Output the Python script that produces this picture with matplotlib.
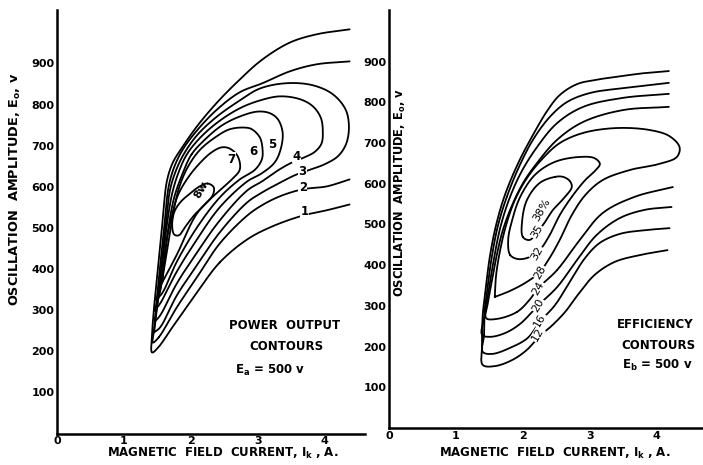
import numpy as np
import matplotlib
matplotlib.use("Agg")
import matplotlib.pyplot as plt

# ---------------- DATA ----------------
# Left panel: power output contours (x = field current A, y = oscillation amplitude V)
p1_x = [4.37, 3.88, 3.48, 3.07, 2.73, 2.39, 2.09, 1.87, 1.73, 1.64, 1.58, 1.52, 1.46, 1.42, 1.42,
        1.51, 1.73, 2.09, 2.43, 2.84, 3.22, 3.67, 4.03, 4.37]
p1_y = [983, 971, 951, 910, 861, 805, 747, 696, 659, 613, 521, 423, 326, 241, 197,
        209, 260, 343, 416, 472, 504, 530, 543, 557]
p2_x = [4.37, 3.88, 3.48, 3.07, 2.73, 2.39, 2.09, 1.88, 1.76, 1.67, 1.61, 1.55, 1.49, 1.45, 1.43,
        1.52, 1.79, 2.09, 2.43, 2.84, 3.06, 3.33, 3.67, 4.03, 4.37]
p2_y = [905, 898, 881, 852, 830, 788, 737, 691, 652, 603, 516, 423, 326, 253, 221,
        234, 307, 380, 462, 530, 555, 577, 594, 601, 618]
p3_x = [1.45, 1.51, 1.57, 1.63, 1.69, 1.79, 1.91, 2.10, 2.39, 2.73, 3.03, 3.43, 3.82, 4.12, 4.31,
        4.36, 4.32, 4.20, 4.00, 3.75, 3.55, 3.33, 3.06, 2.84, 2.43, 2.09, 1.79, 1.54, 1.45]
p3_y = [246, 326, 423, 516, 594, 645, 684, 727, 771, 810, 839, 852, 847, 825, 788,
        747, 705, 675, 655, 640, 628, 610, 586, 562, 489, 409, 336, 258, 246]
p4_x = [1.46, 1.52, 1.58, 1.64, 1.72, 1.82, 1.94, 2.13, 2.40, 2.73, 3.03, 3.33, 3.63, 3.82, 3.94,
        3.97, 3.95, 3.85, 3.70, 3.52, 3.33, 3.06, 2.84, 2.43, 2.09, 1.79, 1.54, 1.46]
p4_y = [272, 338, 423, 506, 584, 637, 679, 718, 757, 791, 810, 820, 813, 796, 768,
        735, 705, 685, 672, 660, 643, 613, 591, 518, 440, 365, 287, 272]
p5_x = [1.46, 1.54, 1.60, 1.66, 1.75, 1.87, 2.01, 2.21, 2.46, 2.73, 3.00, 3.18, 3.30, 3.37, 3.34,
        3.25, 3.06, 2.84, 2.43, 2.09, 1.79, 1.54, 1.46]
p5_y = [299, 345, 418, 496, 574, 630, 679, 715, 749, 771, 783, 779, 764, 732, 691,
        659, 633, 613, 550, 472, 394, 316, 299]
p6_x = [1.48, 1.54, 1.61, 1.69, 1.76, 1.84, 1.96, 2.13, 2.36, 2.58, 2.81, 2.91, 3.03, 3.07, 3.06,
        2.96, 2.73, 2.43, 2.09, 1.79, 1.57, 1.48]
p6_y = [326, 350, 411, 491, 557, 606, 650, 689, 720, 740, 744, 740, 720, 691, 667,
        642, 618, 574, 501, 418, 341, 326]
p7_x = [1.57, 1.60, 1.64, 1.72, 1.81, 1.96, 2.13, 2.31, 2.46, 2.58, 2.70, 2.73, 2.61, 2.36, 2.09,
        1.79, 1.57]
p7_y = [367, 418, 472, 533, 581, 623, 657, 684, 696, 693, 674, 642, 618, 581, 535,
        435, 367]
p8_x = [2.25, 2.34, 2.33, 2.21, 2.06, 1.93, 1.82, 1.75, 1.72, 1.75, 1.84, 1.99, 2.13, 2.25]
p8_y = [608, 599, 581, 557, 533, 506, 482, 484, 506, 538, 562, 584, 601, 608]
power_labels = ["1", "2", "3", "4", "5", "6", "7", "8w"]

# Right panel: efficiency contours (%)
e12_x = [4.18, 3.82, 3.49, 3.15, 2.81, 2.55, 2.37, 2.15, 1.93, 1.73, 1.60, 1.51, 1.45, 1.40, 1.39,
         1.40, 1.58, 1.84, 2.06, 2.25, 2.43, 2.63, 2.82, 3.07, 3.37, 3.75, 4.16]
e12_y = [877, 872, 865, 857, 845, 818, 781, 720, 651, 572, 499, 425, 351, 278, 204,
         155, 152, 167, 192, 226, 251, 285, 327, 376, 408, 425, 437]
e16_x = [4.18, 3.49, 3.00, 2.66, 2.40, 2.15, 1.94, 1.76, 1.63, 1.54, 1.48, 1.43, 1.42, 1.40,
         1.54, 1.81, 2.07, 2.25, 2.48, 2.70, 2.93, 3.15, 3.45, 3.82, 4.19]
e16_y = [848, 835, 823, 801, 764, 708, 641, 568, 499, 425, 356, 290, 229, 187,
         182, 197, 221, 260, 302, 359, 418, 455, 477, 486, 491]
e20_x = [4.18, 3.49, 2.90, 2.51, 2.21, 1.97, 1.79, 1.66, 1.57, 1.49, 1.43, 1.39,
         1.51, 1.73, 1.96, 2.22, 2.51, 2.81, 3.10, 3.45, 3.82, 4.22]
e20_y = [821, 811, 789, 749, 690, 627, 560, 491, 418, 339, 278, 229,
         224, 233, 256, 300, 346, 413, 474, 516, 536, 543]
e24_x = [4.18, 3.49, 2.90, 2.51, 2.21, 2.01, 1.84, 1.70, 1.61, 1.54, 1.48, 1.45,
         1.61, 1.91, 2.10, 2.22, 2.51, 2.85, 3.19, 3.67, 4.24]
e24_y = [789, 781, 752, 708, 651, 604, 548, 486, 425, 364, 310, 270,
         268, 285, 315, 342, 388, 462, 528, 568, 592]
e28_x = [1.58, 1.60, 1.66, 1.75, 1.88, 2.06, 2.30, 2.55, 2.90, 3.40, 3.90, 4.19, 4.34, 4.30, 4.04,
         3.60, 3.19, 2.93, 2.73, 2.55, 2.40, 2.25, 2.06, 1.81, 1.58]
e28_y = [322, 376, 437, 499, 560, 614, 663, 700, 725, 737, 732, 717, 690, 666, 649,
         634, 609, 572, 523, 462, 418, 383, 359, 337, 322]
e32_x = [1.81, 1.78, 1.84, 1.96, 2.18, 2.48, 2.85, 3.07, 3.15, 3.09, 2.93, 2.73, 2.55, 2.40, 2.25,
         2.10, 1.93, 1.81]
e32_y = [425, 462, 511, 568, 622, 654, 666, 663, 649, 634, 609, 568, 523, 474, 437,
         420, 415, 425]
e35_x = [2.00, 1.99, 2.06, 2.25, 2.48, 2.60, 2.70, 2.73, 2.63, 2.45, 2.33, 2.22, 2.10, 2.00]
e35_y = [469, 511, 560, 602, 617, 617, 607, 592, 568, 536, 506, 482, 462, 469]
eff_labels = ["38%", "35", "32", "28", "24", "20", "16", "12"]

x_ticks = [0, 1, 2, 3, 4]
y_ticks = [100, 200, 300, 400, 500, 600, 700, 800, 900]

# ---------------- FIGURE ----------------
W, H = 703, 465
fig = plt.figure(figsize=(W / 100, H / 100), dpi=100)
fig.patch.set_facecolor("white")


def axes_px(x0, x1, ytop, ybot):
    return fig.add_axes([x0 / W, (H - ybot) / H, (x1 - x0) / W, (ybot - ytop) / H])


axL = axes_px(57, 365, 10, 433.5)
axR = axes_px(389, 703, 10, 428)
axL.set_xlim(0, 4.6)
axL.set_ylim(0, 1030)
axR.set_xlim(0, 4.69)
axR.set_ylim(0, 1027)

FONT = "DejaVu Sans"
for ax in (axL, axR):
    for s in ("top", "right"):
        ax.spines[s].set_visible(False)
    for s in ("left", "bottom"):
        ax.spines[s].set_linewidth(1.8)
        ax.spines[s].set_color("black")
    ax.set_xticks(x_ticks)
    ax.set_yticks(y_ticks)
    ax.set_xticklabels([str(v) for v in x_ticks])
    ax.set_yticklabels([str(v) for v in y_ticks])
    ax.tick_params(length=0, pad=2, labelsize=8)
    for lab in ax.get_xticklabels() + ax.get_yticklabels():
        lab.set_fontweight("bold")
        lab.set_family(FONT)
    ax.patch.set_alpha(0)


def catmull(P, closed=False, n=16):
    P = np.asarray(P, float)
    if closed:
        Q = np.vstack([P[-2], P, P[1]])
    else:
        Q = np.vstack([2 * P[0] - P[1], P, 2 * P[-1] - P[-2]])
    out = []
    for i in range(1, len(Q) - 2):
        p0, p1, p2, p3 = Q[i - 1], Q[i], Q[i + 1], Q[i + 2]
        t0 = 0.0
        t1 = t0 + max(np.linalg.norm(p1 - p0), 1e-6) ** 0.5
        t2 = t1 + max(np.linalg.norm(p2 - p1), 1e-6) ** 0.5
        t3 = t2 + max(np.linalg.norm(p3 - p2), 1e-6) ** 0.5
        t = np.linspace(t1, t2, n)[:, None]
        A1 = (t1 - t) / (t1 - t0) * p0 + (t - t0) / (t1 - t0) * p1
        A2 = (t2 - t) / (t2 - t1) * p1 + (t - t1) / (t2 - t1) * p2
        A3 = (t3 - t) / (t3 - t2) * p2 + (t - t2) / (t3 - t2) * p3
        B1 = (t2 - t) / (t2 - t0) * A1 + (t - t0) / (t2 - t0) * A2
        B2 = (t3 - t) / (t3 - t1) * A2 + (t - t1) / (t3 - t1) * A3
        C = (t2 - t) / (t2 - t1) * B1 + (t - t1) / (t2 - t1) * B2
        out.append(C)
    return np.vstack(out)


def draw(ax, xs, ys, closed=False, lw=1.3):
    pts = ax.transData.transform(np.column_stack([xs, ys]))
    sm = catmull(pts, closed=closed)
    d = ax.transData.inverted().transform(sm)
    ax.plot(d[:, 0], d[:, 1], color="black", lw=lw, solid_capstyle="round",
            solid_joinstyle="round")


for xs, ys in [(p1_x, p1_y), (p2_x, p2_y), (p3_x, p3_y), (p4_x, p4_y),
               (p5_x, p5_y), (p6_x, p6_y), (p7_x, p7_y)]:
    draw(axL, xs, ys)
draw(axL, p8_x, p8_y, closed=True)

for xs, ys in [(e12_x, e12_y), (e16_x, e16_y), (e20_x, e20_y), (e24_x, e24_y), (e28_x, e28_y)]:
    draw(axR, xs, ys)
draw(axR, e32_x, e32_y, closed=True)
draw(axR, e35_x, e35_y, closed=True)

box = dict(facecolor="white", edgecolor="none", pad=0.3)
pl_pos = [(3.70, 540), (3.67, 599), (3.67, 637), (3.58, 674), (3.22, 703), (2.93, 686), (2.61, 667)]
for lab, (x, y) in zip(power_labels[:7], pl_pos):
    axL.text(x, y, lab, ha="center", va="center", fontsize=8.5, fontweight="bold",
             family=FONT, bbox=box, zorder=5)
axL.text(2.16, 594, power_labels[7], ha="center", va="center", fontsize=8, fontweight="bold",
         family=FONT, rotation=60, zorder=5)

el_pos = [(2.28, 536), (2.21, 482), (2.21, 430), (2.25, 383), (2.22, 344), (2.22, 302), (2.25, 265),
          (2.22, 229)]
for i, (lab, (x, y)) in enumerate(zip(eff_labels, el_pos)):
    axR.text(x, y, lab, ha="center", va="center", fontsize=8, family=FONT,
             rotation=60, bbox=None if i == 0 else box, zorder=5)


def ftext(x, y, s, **kw):
    kw.setdefault("family", FONT)
    kw.setdefault("fontweight", "bold")
    fig.text(x / W, 1 - y / H, s, **kw)


ftext(285, 325, "POWER  OUTPUT", ha="center", va="center", fontsize=8.5)
ftext(286, 346, "CONTOURS", ha="center", va="center", fontsize=8.5)
ftext(235, 370, r"E$_{\mathbf{a}}$ = 500 v", ha="left", va="center", fontsize=8.5)
ftext(655, 324, "EFFICIENCY", ha="center", va="center", fontsize=8.5)
ftext(658, 345, "CONTOURS", ha="center", va="center", fontsize=8.5)
ftext(622, 365, r"E$_{\mathbf{b}}$ = 500 v", ha="left", va="center", fontsize=8.5)

ftext(223, 453, r"MAGNETIC  FIELD  CURRENT, I$_{\mathbf{k}}$ , A.", ha="center", va="center",
      fontsize=8.5)
ftext(555, 453, r"MAGNETIC  FIELD  CURRENT, I$_{\mathbf{k}}$ , A.", ha="center", va="center",
      fontsize=8.5)
ftext(15, 189, r"OSCILLATION  AMPLITUDE, E$_{\mathbf{o}}$, v", ha="center", va="center",
      rotation=90, fontsize=9.3)
ftext(400, 193, r"OSCILLATION  AMPLITUDE, E$_{\mathbf{o}}$, v", ha="center", va="center",
      rotation=90, fontsize=8.3)

fig.savefig("out.png", dpi=100)
